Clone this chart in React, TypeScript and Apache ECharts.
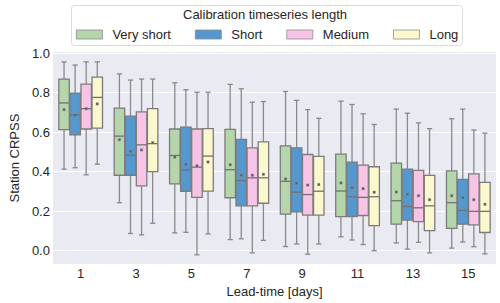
import React, { useEffect, useRef } from "react";
import * as echarts from "echarts";

const leadTimes = ["1", "3", "5", "7", "9", "11", "13", "15"];
const seriesNames = ["Very short", "Short", "Medium", "Long"];
const seriesColors = ["#b4d6aa", "#5597cf", "#f7c4e6", "#fbf8ce"];
const yTicks = [0, 0.2, 0.4, 0.6, 0.8, 1.0];

// [whisker low, Q1, median, Q3, whisker high]
const veryShortBox = [
  [0.413, 0.613, 0.748, 0.869, 0.956],
  [0.243, 0.382, 0.58, 0.722, 0.895],
  [0.09, 0.338, 0.482, 0.616, 0.85],
  [0.056, 0.268, 0.41, 0.614, 0.842],
  [0.021, 0.185, 0.351, 0.531, 0.806],
  [0.07, 0.172, 0.302, 0.489, 0.757],
  [0.039, 0.134, 0.253, 0.443, 0.717],
  [0.013, 0.113, 0.243, 0.404, 0.668],
];
const veryShortMean = [0.714, 0.562, 0.474, 0.435, 0.363, 0.343, 0.297, 0.278];

const shortBox = [
  [0.42, 0.587, 0.688, 0.797, 0.94],
  [0.087, 0.382, 0.484, 0.681, 0.864],
  [0.093, 0.301, 0.408, 0.626, 0.815],
  [0.06, 0.227, 0.355, 0.564, 0.82],
  [0.034, 0.196, 0.296, 0.521, 0.761],
  [0.054, 0.173, 0.273, 0.448, 0.74],
  [0.008, 0.155, 0.224, 0.413, 0.696],
  [0.044, 0.134, 0.204, 0.361, 0.717],
];
const shortMean = [0.686, 0.503, 0.438, 0.382, 0.342, 0.319, 0.286, 0.268];

const mediumBox = [
  [0.384, 0.616, 0.719, 0.843, 0.956],
  [0.08, 0.328, 0.536, 0.703, 0.869],
  [-0.021, 0.27, 0.423, 0.616, 0.802],
  [-0.011, 0.227, 0.369, 0.521, 0.752],
  [-0.018, 0.18, 0.284, 0.487, 0.714],
  [0.031, 0.178, 0.27, 0.433, 0.693],
  [0.042, 0.147, 0.217, 0.407, 0.647],
  [0.02, 0.131, 0.199, 0.389, 0.611],
];
const mediumMean = [0.719, 0.51, 0.43, 0.382, 0.332, 0.314, 0.278, 0.258];

const longBox = [
  [0.438, 0.621, 0.776, 0.879, 0.956],
  [0.139, 0.4, 0.542, 0.719, 0.869],
  [0.085, 0.302, 0.479, 0.618, 0.802],
  [0.052, 0.24, 0.369, 0.551, 0.755],
  [0.034, 0.18, 0.301, 0.477, 0.67],
  [0.0, 0.127, 0.273, 0.425, 0.639],
  [-0.011, 0.101, 0.227, 0.381, 0.618],
  [-0.016, 0.092, 0.199, 0.346, 0.595],
];
const longMean = [0.743, 0.547, 0.449, 0.387, 0.335, 0.296, 0.258, 0.235];

const allBoxes = [veryShortBox, shortBox, mediumBox, longBox];
const allMeans = [veryShortMean, shortMean, mediumMean, longMean];

const FONT = "'Liberation Sans', Arial, sans-serif";
const TEXT = "#262626";
const LINE = "#8a8a8a";

export default function App() {
  const ref = useRef<HTMLDivElement>(null);
  useEffect(() => {
    if (!ref.current) return;
    const chart = echarts.init(ref.current, undefined, { renderer: "svg" });

    const makeSeries = (k: number) => ({
      type: "custom",
      name: seriesNames[k],
      itemStyle: { color: seriesColors[k] },
      encode: { x: 0, y: [1, 2, 3, 4, 5, 6] },
      data: allBoxes[k].map((b, i) => [i, b[0], b[1], b[2], b[3], b[4], allMeans[k][i]]),
      renderItem: (params: any, api: any) => {
        const ci = api.value(0);
        const bw = api.size([1, 0])[0];
        const slot = (bw * 0.8) / 4;
        const boxW = slot - 0.6;
        const cx = api.coord([ci, 0])[0] - bw * 0.4 + slot * (k + 0.5);
        const y = (v: number) => api.coord([ci, v])[1];
        const yMin = y(api.value(1));
        const yQ1 = y(api.value(2));
        const yMed = y(api.value(3));
        const yQ3 = y(api.value(4));
        const yMax = y(api.value(5));
        const yMean = y(api.value(6));
        const ls = { stroke: LINE, lineWidth: 1.3 };
        const capHalf = boxW / 4;
        return {
          type: "group",
          children: [
            { type: "line", shape: { x1: cx, y1: yQ3, x2: cx, y2: yMax }, style: ls },
            { type: "line", shape: { x1: cx, y1: yQ1, x2: cx, y2: yMin }, style: ls },
            { type: "line", shape: { x1: cx - capHalf, y1: yMax, x2: cx + capHalf, y2: yMax }, style: ls },
            { type: "line", shape: { x1: cx - capHalf, y1: yMin, x2: cx + capHalf, y2: yMin }, style: ls },
            {
              type: "rect",
              shape: { x: cx - boxW / 2, y: yQ3, width: boxW, height: yQ1 - yQ3 },
              style: { fill: seriesColors[k], stroke: "#7c7c7c", lineWidth: 1.3 },
            },
            { type: "line", shape: { x1: cx - boxW / 2, y1: yMed, x2: cx + boxW / 2, y2: yMed }, style: { stroke: "#727272", lineWidth: 1.3 } },
            {
              type: "rect",
              shape: { x: cx - 1.2, y: yMean - 1.2, width: 2.4, height: 2.4 },
              style: { fill: "#5a5a5a", stroke: "#8a8a8a", lineWidth: 0.4 },
            },
          ],
        };
      },
    });

    chart.setOption({
      animation: false,
      backgroundColor: "#ffffff",
      textStyle: { fontFamily: FONT },
      grid: { left: 38, right: 4, top: 52, bottom: 32, show: true, backgroundColor: "#eaeaf2", borderWidth: 0 },
      legend: {
        data: seriesNames,
        left: 76,
        top: 28,
        padding: 0,
        itemWidth: 26,
        itemHeight: 9,
        itemGap: 24,
        icon: "rect",
        itemStyle: { borderColor: "#8c8c8c", borderWidth: 0.8 },
        textStyle: { fontSize: 13, color: TEXT, fontFamily: FONT, padding: [0, 0, 0, 5] },
        selectedMode: false,
      },
      graphic: [
        {
          type: "rect",
          left: 71,
          top: 5,
          shape: { width: 391, height: 40, r: 3 },
          style: { fill: "#ffffff", stroke: "#dcdcdc", lineWidth: 1 },
          z: -1,
        },
        {
          type: "text",
          left: 183,
          top: 8,
          style: { text: "Calibration timeseries length", fontSize: 13, fill: TEXT, fontFamily: FONT },
        },
      ],
      xAxis: {
        type: "category",
        data: leadTimes,
        axisLine: { show: false },
        axisTick: { show: false },
        axisLabel: { fontSize: 13, color: TEXT, margin: 3 },
        splitLine: { show: false },
        name: "Lead-time [days]",
        nameLocation: "middle",
        nameGap: 15,
        nameTextStyle: { fontSize: 13, color: TEXT },
      },
      yAxis: {
        type: "value",
        min: -0.068,
        max: 1.006,
        axisLine: { show: false },
        axisTick: { show: false, customValues: yTicks },
        axisLabel: {
          fontSize: 13,
          color: TEXT,
          margin: 3,
          customValues: yTicks,
          formatter: (v: number) => v.toFixed(1),
        },
        splitLine: { show: true, lineStyle: { color: "#ffffff", width: 1 } },
        name: "Station CRPSS",
        nameLocation: "middle",
        nameGap: 27,
        nameTextStyle: { fontSize: 13, color: TEXT },
      },
      series: [0, 1, 2, 3].map(makeSeries),
    });
    return () => chart.dispose();
  }, []);
  return <div ref={ref} style={{ position: "fixed", left: 0, top: 0, width: 500, height: 303 }} />;
}
